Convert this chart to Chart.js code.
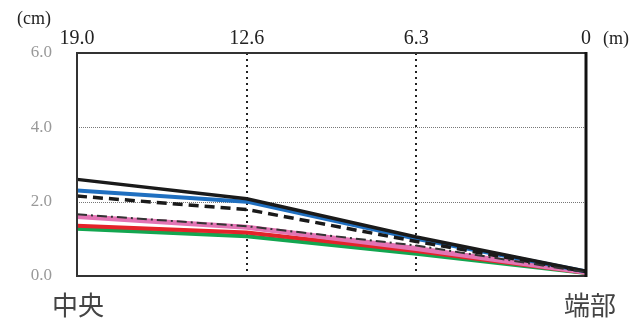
<!DOCTYPE html>
<html>
<head>
<meta charset="utf-8">
<script src="https://cdn.jsdelivr.net/npm/chart.js@4/dist/chart.umd.min.js"></script>
<style>
  html, body { margin: 0; padding: 0; background: #fff; }
  #wrap { width: 636px; height: 323px; position: relative; }
</style>
</head>
<body>
<div id="wrap"><canvas id="chart"></canvas></div>
<script>
// distance from the end (m), shown on the top axis
const positions = ['19.0', '12.6', '6.3', '0'];
const yTicks = [0, 2, 4, 6];

// deflection values (cm)
const lineBlack = [2.60, 2.08, 1.05, 0.13];
const lineBlue = [2.30, 2.00, 1.00, 0.12];
const lineDashed = [2.15, 1.79, 0.93, 0.12];
const lineDashDot = [1.66, 1.34, 0.82, 0.10];
const linePink = [1.60, 1.31, 0.74, 0.10];
const lineRed = [1.35, 1.17, 0.67, 0.09];
const lineGreen = [1.27, 1.07, 0.60, 0.08];

const serif = '"Liberation Serif", "DejaVu Serif", serif';
const jp = '"Noto Sans CJK JP", sans-serif';

// frame, dotted grid and the extra labels
const framePlugin = {
    id: 'frame',
    beforeDatasetsDraw(chart) {
        const { ctx, chartArea: a, scales } = chart;
        ctx.save();
        // horizontal dotted lines
        ctx.strokeStyle = '#777';
        ctx.lineWidth = 1;
        ctx.setLineDash([1, 1]);
        [2, 4].forEach(v => {
            const y = Math.round(scales.y.getPixelForValue(v)) + 0.5;
            ctx.beginPath();
            ctx.moveTo(a.left, y);
            ctx.lineTo(a.right, y);
            ctx.stroke();
        });
        // vertical dotted lines
        ctx.strokeStyle = '#222';
        ctx.lineWidth = 2;
        ctx.setLineDash([2, 4]);
        [1, 2].forEach(i => {
            const x = Math.round(scales.x.getPixelForValue(i));
            ctx.beginPath();
            ctx.moveTo(x, a.top);
            ctx.lineTo(x, a.bottom);
            ctx.stroke();
        });
        ctx.restore();
    },
    afterDraw(chart) {
        const { ctx, chartArea: a } = chart;
        ctx.save();
        ctx.setLineDash([]);
        ctx.strokeStyle = '#333';
        ctx.lineWidth = 2;
        ctx.strokeRect(a.left, a.top, a.right - a.left, a.bottom - a.top);
        ctx.strokeStyle = '#111';
        ctx.lineWidth = 3;
        ctx.beginPath();
        ctx.moveTo(a.right, a.top - 1);
        ctx.lineTo(a.right, a.bottom + 1);
        ctx.stroke();

        ctx.fillStyle = '#222';
        ctx.textBaseline = 'middle';
        ctx.font = '18px ' + serif;
        ctx.textAlign = 'left';
        ctx.fillText('(cm)', 17, 19);
        ctx.fillText('(m)', 603, 39);
        ctx.font = '26px ' + jp;
        ctx.textAlign = 'center';
        ctx.fillStyle = '#444';
        ctx.fillText('中央', 78, 305);
        ctx.fillText('端部', 590, 305);
        ctx.restore();
    }
};

function line(label, data, color, width, dash) {
    return {
        label, data,
        borderColor: color,
        backgroundColor: color,
        borderWidth: width,
        borderDash: dash || [],
        pointRadius: 0,
        tension: 0,
        fill: false
    };
}

new Chart(document.getElementById('chart'), {
    type: 'line',
    data: {
        labels: positions,
        datasets: [
            line('一点鎖線', lineDashDot, '#333', 2, [10, 4, 2, 4]),
            line('黒', lineBlack, '#1a1a1a', 3.5),
            line('破線', lineDashed, '#1a1a1a', 3.5, [10, 6]),
            line('青', lineBlue, '#1f6fc0', 4),
            line('桃', linePink, '#e374b4', 5),
            line('赤', lineRed, '#e4232a', 4),
            line('緑', lineGreen, '#13a650', 4)
        ]
    },
    options: {
        responsive: true,
        maintainAspectRatio: false,
        animation: false,
        layout: { padding: { left: 0, right: 50, top: 0, bottom: 47 } },
        plugins: { legend: { display: false }, tooltip: { enabled: false } },
        scales: {
            x: {
                position: 'top',
                offset: false,
                grid: { display: false, drawTicks: false },
                border: { display: false },
                ticks: { color: '#222', font: { family: serif, size: 20 }, padding: 2, maxRotation: 0, autoSkip: false },
                afterFit(scale) { scale.height = 53; }
            },
            y: {
                min: 0,
                max: 6,
                afterBuildTicks(scale) { scale.ticks = yTicks.map(v => ({ value: v })); },
                grid: { display: false, drawTicks: false },
                border: { display: false },
                ticks: {
                    color: '#999',
                    font: { family: serif, size: 17 },
                    padding: 25,
                    callback: v => v.toFixed(1)
                },
                afterFit(scale) { scale.width = 77; }
            }
        }
    },
    plugins: [framePlugin]
});
</script>
</body>
</html>
